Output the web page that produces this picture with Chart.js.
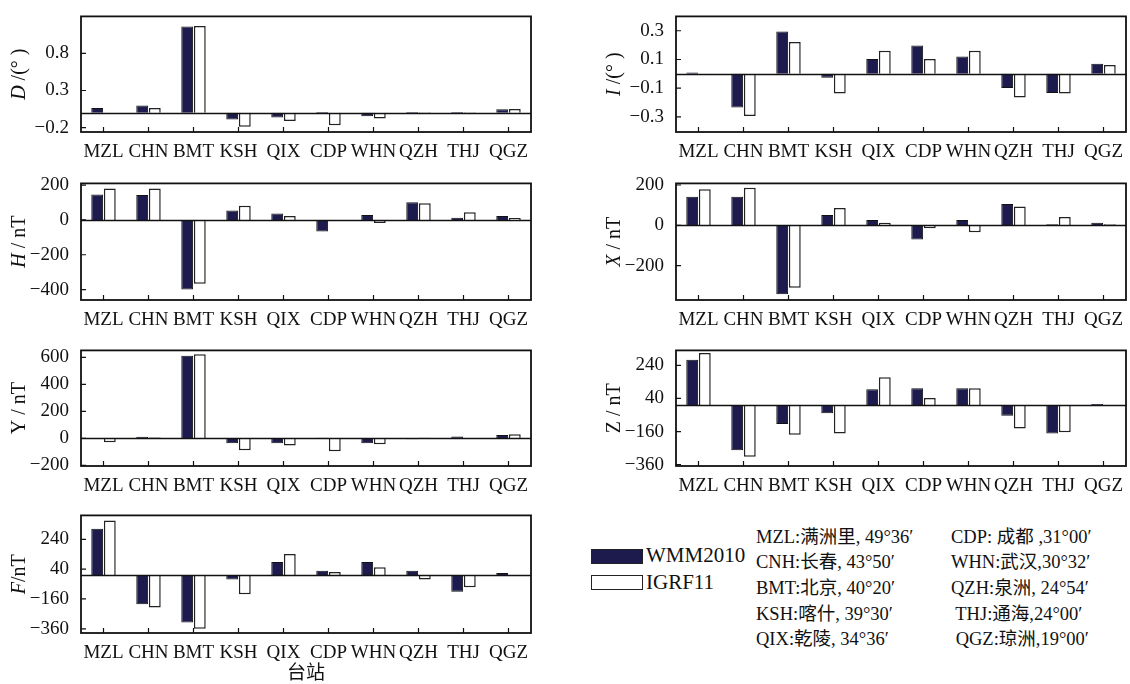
<!DOCTYPE html>
<html>
<head>
<meta charset="utf-8">
<script src="https://cdn.jsdelivr.net/npm/chart.js@4.4.0/dist/chart.umd.min.js"></script>
<style>
  body { margin: 0; width: 1130px; height: 684px; background: #fff; position: relative; overflow: hidden;
         font-family: "Liberation Serif", "Noto Sans CJK SC", serif; color: #111; }
  canvas { position: absolute; }
  .sw { position: absolute; left: 591px; width: 52px; height: 15px; box-sizing: border-box; border: 1.5px solid #222; }
  .lg { position: absolute; left: 646px; font-size: 21px; line-height: 21px; }
  .st { position: absolute; font-size: 18.5px; line-height: 22px; white-space: pre; }
</style>
</head>
<body>
<div class="sw" style="top:549px;background:#1d1b4d;"></div>
<div class="lg" style="top:545px;">WMM2010</div>
<div class="sw" style="top:575px;background:#fff;"></div>
<div class="lg" style="top:572px;">IGRF11</div>
<div id="stations"></div>

<script>
const stations = ['MZL', 'CHN', 'BMT', 'KSH', 'QIX', 'CDP', 'WHN', 'QZH', 'THJ', 'QGZ'];

const D_WMM  = [0.065, 0.096, 1.165, -0.09, -0.065, 0.01, -0.048, 0.01, 0.01, 0.048];
const D_IGRF = [0.0, 0.065, 1.17, -0.19, -0.11, -0.17, -0.078, 0.005, 0.005, 0.05];
const D_TICKS = [-0.2, 0.3, 0.8];

const I_WMM  = [0.01, -0.234, 0.294, -0.027, 0.103, 0.198, 0.121, -0.099, -0.133, 0.07];
const I_IGRF = [-0.007, -0.294, 0.222, -0.137, 0.16, 0.103, 0.16, -0.164, -0.137, 0.061];
const I_TICKS = [-0.3, -0.1, 0.1, 0.3];

const H_WMM  = [146, 143, -400, 54, 37, -67, 28, 102, 13, 22];
const H_IGRF = [180, 180, -367, 81, 22, -5, -18, 96, 44, 11];
const H_TICKS = [-400, -200, 0, 200];

const X_WMM  = [142, 142, -342, 51, 26, -70, 26, 106, 6, 13];
const X_IGRF = [179, 186, -309, 86, 13, -14, -34, 93, 42, 6];
const X_TICKS = [-200, 0, 200];

const Y_WMM  = [-2, 12, 612, -36, -36, 5, -36, -7, 14, 24];
const Y_IGRF = [-29, 7, 624, -88, -53, -96, -43, 5, 0, 31];
const Y_TICKS = [-200, 0, 200, 400, 600];

const Z_WMM  = [273, -273, -114, -49, 95, 101, 101, -65, -172, 7];
const Z_IGRF = [314, -312, -179, -172, 168, 43, 101, -142, -164, -4];
const Z_TICKS = [-360, -160, 40, 240];

const F_WMM  = [310, -195, -318, -29, 88, 29, 88, 29, -112, 14];
const F_IGRF = [365, -217, -360, -128, 142, 20, 52, -29, -82, 1];
const F_TICKS = [-360, -160, 40, 240];

const stationCol1 = ['MZL:满洲里, 49°36′', 'CNH:长春, 43°50′', 'BMT:北京, 40°20′', 'KSH:喀什, 39°30′', 'QIX:乾陵, 34°36′'];
const stationCol2 = ['CDP: 成都 ,31°00′', 'WHN:武汉,30°32′', 'QZH:泉洲, 24°54′', ' THJ:通海,24°00′', ' QGZ:琼洲,19°00′'];

// station list
const stDiv = document.getElementById('stations');
const rowY = [526, 551, 577, 603, 628];
stationCol1.forEach((t, k) => {
    const d = document.createElement('div');
    d.className = 'st'; d.textContent = t;
    d.style.left = '756px'; d.style.top = rowY[k] + 'px';
    stDiv.appendChild(d);
});
stationCol2.forEach((t, k) => {
    const d = document.createElement('div');
    d.className = 'st'; d.textContent = t;
    d.style.left = '951px'; d.style.top = rowY[k] + 'px';
    stDiv.appendChild(d);
});

function fmt(v) {
    return (v < 0 ? '\u2212' : '') + String(Math.abs(v));
}

// frame, zero line, inward ticks and the y title
const framePlugin = {
    id: 'frame',
    afterDatasetsDraw(chart, args, opts) {
        const ctx = chart.ctx;
        const a = chart.chartArea;
        const x = chart.scales.x, y = chart.scales.y;
        ctx.save();
        ctx.strokeStyle = '#111';
        ctx.lineWidth = 1.3;
        const y0 = Math.round(y.getPixelForValue(0)) + 0.5;
        ctx.beginPath();
        ctx.moveTo(a.left, y0);
        ctx.lineTo(a.right, y0);
        ctx.stroke();

        ctx.lineWidth = 1.2;
        ctx.beginPath();
        y.ticks.forEach(t => {
            const py = y.getPixelForValue(t.value);
            ctx.moveTo(a.left, py);
            ctx.lineTo(a.left + 5, py);
        });
        x.ticks.forEach((t, i) => {
            const px = x.getPixelForTick(i);
            ctx.moveTo(px, a.bottom);
            ctx.lineTo(px, a.bottom - 5);
        });
        ctx.stroke();

        ctx.lineWidth = 1.8;
        ctx.strokeRect(a.left, a.top, a.right - a.left, a.bottom - a.top);

        // rotated title with italic symbol
        ctx.translate(opts.titleX, (a.top + a.bottom) / 2);
        ctx.rotate(-Math.PI / 2);
        ctx.fillStyle = '#111';
        ctx.textBaseline = 'middle';
        const fonts = opts.parts.map(p => (p.italic ? 'italic ' : '') + '20px "Liberation Serif", serif');
        let total = 0;
        opts.parts.forEach((p, k) => { ctx.font = fonts[k]; total += ctx.measureText(p.text).width; });
        let cx = -total / 2;
        opts.parts.forEach((p, k) => {
            ctx.font = fonts[k];
            ctx.fillText(p.text, cx, 0);
            cx += ctx.measureText(p.text).width;
        });
        ctx.restore();
    }
};

const panels = [
    { left: 0,   top: 13,  h: 119, wmm: D_WMM, igrf: D_IGRF, ticks: D_TICKS, min: -0.26, max: 1.3,
      title: [{ text: 'D', italic: true }, { text: ' /(° )' }] },
    { left: 595, top: 13,  h: 119, wmm: I_WMM, igrf: I_IGRF, ticks: I_TICKS, min: -0.405, max: 0.4,
      title: [{ text: 'I', italic: true }, { text: ' /(° )' }] },
    { left: 0,   top: 180, h: 120, wmm: H_WMM, igrf: H_IGRF, ticks: H_TICKS, min: -460, max: 210,
      title: [{ text: 'H', italic: true }, { text: ' / nT' }] },
    { left: 595, top: 180, h: 120, wmm: X_WMM, igrf: X_IGRF, ticks: X_TICKS, min: -370, max: 208,
      title: [{ text: 'X', italic: true }, { text: ' / nT' }] },
    { left: 0,   top: 347, h: 119, wmm: Y_WMM, igrf: Y_IGRF, ticks: Y_TICKS, min: -205, max: 652,
      title: [{ text: 'Y / nT' }] },
    { left: 595, top: 347, h: 119, wmm: Z_WMM, igrf: Z_IGRF, ticks: Z_TICKS, min: -368, max: 330,
      title: [{ text: 'Z / nT' }] },
    { left: 0,   top: 512, h: 121, wmm: F_WMM, igrf: F_IGRF, ticks: F_TICKS, min: -388, max: 400,
      title: [{ text: 'F', italic: true }, { text: '/nT' }], xTitle: '台站' }
];

panels.forEach(p => {
    const padTop = 12;
    const xh = p.xTitle ? 56 : 32;
    const cv = document.createElement('canvas');
    cv.width = 81 + 450 + 4;
    cv.height = padTop + p.h + xh;
    cv.style.left = p.left + 'px';
    cv.style.top = (p.top - padTop) + 'px';
    document.body.appendChild(cv);

    new Chart(cv, {
        type: 'bar',
        data: {
            labels: stations,
            datasets: [
                { label: 'WMM2010', data: p.wmm, backgroundColor: '#1d1b4d', borderColor: '#111', borderWidth: 1 },
                { label: 'IGRF11', data: p.igrf, backgroundColor: '#ffffff', borderColor: '#222', borderWidth: 1.5 }
            ]
        },
        options: {
            responsive: false,
            animation: false,
            devicePixelRatio: 1,
            categoryPercentage: 0.56,
            barPercentage: 0.94,
            layout: { padding: { top: padTop, right: 4, left: 0, bottom: 0 } },
            plugins: {
                legend: { display: false },
                tooltip: { enabled: false },
                frame: { titleX: 20, parts: p.title }
            },
            scales: {
                x: {
                    grid: { display: false },
                    border: { display: false },
                    ticks: { color: '#111', autoSkip: false, maxRotation: 0, padding: 1,
                             font: { family: '"Liberation Serif", serif', size: 19 } },
                    title: {
                        display: !!p.xTitle, text: p.xTitle || '', color: '#111',
                        padding: { top: 0, bottom: 6 },
                        font: { family: '"Noto Sans CJK SC", sans-serif', size: 19 }
                    },
                    afterFit: s => { s.height = xh; }
                },
                y: {
                    min: p.min,
                    max: p.max,
                    grid: { display: false },
                    border: { display: false },
                    afterBuildTicks: s => { s.ticks = p.ticks.map(v => ({ value: v })); },
                    ticks: { color: '#111', padding: 4, callback: v => fmt(v),
                             font: { family: '"Liberation Serif", serif', size: 19 } },
                    afterFit: s => { s.width = 81; }
                }
            }
        },
        plugins: [framePlugin]
    });
});
</script>
</body>
</html>
